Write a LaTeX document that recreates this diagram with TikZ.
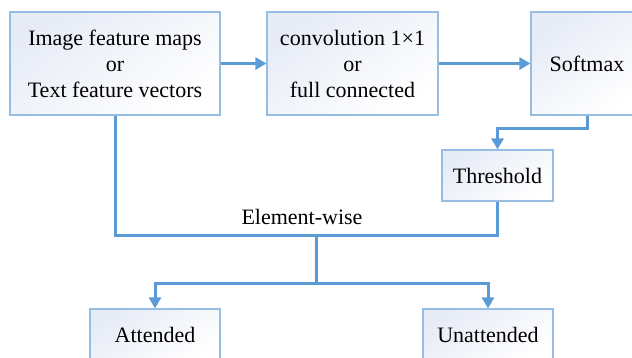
\documentclass[tikz,border=0pt]{standalone}
\usepackage{fontspec}
\setmainfont{Liberation Serif}
\usetikzlibrary{arrows.meta}
\definecolor{flow}{RGB}{91,155,213}
\definecolor{edge}{RGB}{150,190,228}
\definecolor{tint}{RGB}{230,235,246}
\tikzset{
  box/.style={draw=edge, line width=1.2pt, shading=axis, top color=tint, bottom color=white,
    shading angle=35, align=center, font=\fontsize{22}{26}\selectfont, inner sep=0pt},
  link/.style={draw=flow, line width=3pt, -{Triangle[length=11pt,width=12pt]}},
  wire/.style={draw=flow, line width=3pt}
}
\begin{document}
\begin{tikzpicture}[x=1pt,y=-1pt]
\useasboundingbox (0,0) rectangle (632,357);
\clip (0,0) rectangle (632,357);
\node[box, minimum width=210pt, minimum height=103pt] (b1) at (115,63.5)
  {Image feature maps\\or\\Text feature vectors};
\node[box, minimum width=171pt, minimum height=103pt] (b2) at (352.5,63.5)
  {convolution 1×1\\or\\full connected};
\node[box, minimum width=112pt, minimum height=103pt] (sm) at (587,63.5) {Softmax};
\node[box, minimum width=111pt, minimum height=51pt] (th) at (497.5,175.5) {Threshold};
\node[box, minimum width=130pt, minimum height=52pt] (att) at (155,335) {Attended};
\node[box, minimum width=130pt, minimum height=52pt] (un) at (488,335) {Unattended};

\path[link] (b1.east) -- (b2.west);
\path[link] (b2.east) -- (sm.west);
\path[link] (sm.south) -- ++(0,13) -| (th.north);
\coordinate (m) at (316,235);
\coordinate (s) at (316,283);
\path[wire] (th.south) |- (m) -| (b1.south);
\path[wire] (m) -- (s);
\path[link] (s) -| (att.north);
\path[link] (s) -| (un.north);
\node[font=\fontsize{22}{26}\selectfont, anchor=center] (ew) at (302,217) {Element-wise};
\end{tikzpicture}
\end{document}
